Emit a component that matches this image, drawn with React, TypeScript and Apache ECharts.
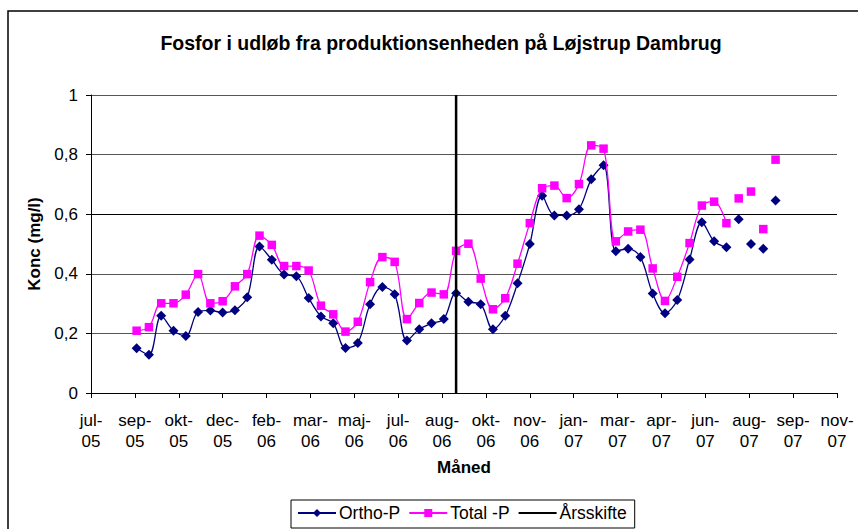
import React, { useEffect, useRef } from 'react';
import * as echarts from 'echarts';

// Sample dates (biweekly measurements)
const sampleDates = [
  '2005-09-07', '2005-09-21', '2005-10-05', '2005-10-19', '2005-11-02', '2005-11-16', '2005-11-30',
  '2005-12-14', '2005-12-28', '2006-01-11', '2006-01-25', '2006-02-08', '2006-02-22', '2006-03-08',
  '2006-03-22', '2006-04-05', '2006-04-19', '2006-05-03', '2006-05-17', '2006-05-31', '2006-06-14',
  '2006-06-28', '2006-07-12', '2006-07-26', '2006-08-09', '2006-08-23', '2006-09-06', '2006-09-20',
  '2006-10-04', '2006-10-18', '2006-11-01', '2006-11-15', '2006-11-29', '2006-12-13', '2006-12-27',
  '2007-01-10', '2007-01-24', '2007-02-07', '2007-02-21', '2007-03-07', '2007-03-21', '2007-04-04',
  '2007-04-18', '2007-05-02', '2007-05-16', '2007-05-30', '2007-06-13', '2007-06-27', '2007-07-11',
  '2007-07-25', '2007-08-08', '2007-08-22', '2007-09-05',
];

const orthoP = [
  0.150, 0.128, 0.259, 0.209, 0.191, 0.272, 0.277, 0.270, 0.278, 0.321, 0.492, 0.447, 0.398, 0.392,
  0.319, 0.257, 0.234, 0.151, 0.168, 0.298, 0.356, 0.331, 0.176, 0.214, 0.234, 0.248, 0.335, 0.306,
  0.298, 0.214, 0.259, 0.368, 0.500, 0.662, 0.596, 0.596, 0.617, 0.717, 0.764, 0.476, 0.484, 0.456,
  0.334, 0.268, 0.312, 0.448, 0.573, 0.509, 0.489, 0.583, 0.500, 0.484, 0.646,
];

const totalP = [
  0.209, 0.221, 0.301, 0.301, 0.330, 0.399, 0.301, 0.308, 0.358, 0.399, 0.528, 0.497, 0.426, 0.426,
  0.411, 0.293, 0.264, 0.206, 0.239, 0.372, 0.456, 0.440, 0.248, 0.302, 0.337, 0.331, 0.477, 0.501,
  0.384, 0.281, 0.318, 0.434, 0.570, 0.687, 0.696, 0.654, 0.701, 0.831, 0.820, 0.509, 0.542, 0.548,
  0.418, 0.309, 0.390, 0.503, 0.629, 0.642, 0.570, 0.653, 0.676, 0.550, 0.783,
];

// number of leading samples joined by a line; the rest are single points
const connectedCount = 49;

const yearChangeDate = '2006-09-06';
const yearChangeRange = [0, 1];

const xTickLabels = [
  'jul-05', 'sep-05', 'okt-05', 'dec-05', 'feb-06', 'mar-06', 'maj-06', 'jul-06', 'aug-06',
  'okt-06', 'nov-06', 'jan-07', 'mar-07', 'apr-07', 'jun-07', 'aug-07', 'sep-07', 'nov-07',
];
// Excel serial day numbers of the x axis
const xAxisMin = 38550;
const xAxisMax = 39400;
const xAxisStep = 50;

const FONT = 'Liberation Sans, Arial, Helvetica, sans-serif';

function toSerial(s: string): number {
  const [y, m, d] = s.split('-').map(Number);
  return Math.round((Date.UTC(y, m - 1, d) - Date.UTC(1899, 11, 30)) / 86400000);
}

export default function App() {
  const ref = useRef<HTMLDivElement>(null);
  useEffect(() => {
    if (!ref.current) return;
    const chart = echarts.init(ref.current, undefined, { renderer: 'svg' });
    const xs = sampleDates.map(toSerial);
    const orthoPairs = xs.map((x, i) => [x, orthoP[i]]);
    const totalPairs = xs.map((x, i) => [x, totalP[i]]);
    const yc = toSerial(yearChangeDate);
    const navy = '#000080';
    const pink = '#FF00FF';

    chart.setOption({
      animation: false,
      backgroundColor: '#ffffff',
      textStyle: { fontFamily: FONT },
      title: {
        text: 'Fosfor i udløb fra produktionsenheden på Løjstrup Dambrug',
        left: 436,
        top: 28,
        textAlign: 'center',
        textStyle: { fontFamily: FONT, fontWeight: 'bold', fontSize: 19.5, color: '#000' },
      },
      graphic: [
        {
          type: 'rect',
          shape: { x: 8, y: 11, width: 900, height: 600 },
          style: { fill: 'none', stroke: '#000', lineWidth: 1.5 },
          silent: true,
        },
      ],
      legend: {
        data: [
          { name: 'Ortho-P' },
          { name: 'Total -P' },
          { name: 'Årsskifte', itemStyle: { opacity: 0 } },
        ],
        left: 291,
        top: 500,
        orient: 'horizontal',
        borderColor: '#000',
        borderWidth: 1,
        padding: [4, 8, 6, 6],
        itemWidth: 38,
        itemHeight: 10,
        itemGap: 8,
        textStyle: { fontFamily: FONT, fontSize: 17.5, color: '#000', padding: [0, 0, 0, -2] },
      },
      grid: { left: 91, top: 95, width: 746, height: 298, containLabel: false },
      xAxis: {
        type: 'value',
        min: xAxisMin,
        max: xAxisMax,
        interval: xAxisStep,
        name: 'Måned',
        nameLocation: 'middle',
        nameGap: 66,
        nameTextStyle: { fontFamily: FONT, fontWeight: 'bold', fontSize: 17, color: '#000' },
        axisLine: { onZero: false, lineStyle: { color: '#000', width: 1 } },
        axisTick: { show: true, length: 5, lineStyle: { color: '#000' } },
        splitLine: { show: false },
        axisLabel: {
          margin: 17,
          fontFamily: FONT,
          fontSize: 17,
          lineHeight: 21,
          color: '#000',
          formatter: (v: number) => {
            const lbl = xTickLabels[Math.round((v - xAxisMin) / xAxisStep)] || '';
            return lbl.replace('-', '-\n');
          },
        },
      },
      yAxis: {
        type: 'value',
        min: 0,
        max: 1,
        interval: 0.2,
        name: 'Konc (mg/l)',
        nameLocation: 'middle',
        nameGap: 48,
        nameTextStyle: { fontFamily: FONT, fontWeight: 'bold', fontSize: 17, color: '#000' },
        axisLine: { show: true, onZero: false, lineStyle: { color: '#000', width: 1 } },
        axisTick: { show: true, length: 5, lineStyle: { color: '#000' } },
        splitLine: {
          show: true,
          lineStyle: { color: ['#555', '#555', '#555', '#000', '#555', '#555'], width: 1 },
        },
        axisLabel: {
          margin: 13,
          fontFamily: FONT,
          fontSize: 17,
          color: '#000',
          formatter: (v: number) => String(Number(v.toFixed(1))).replace('.', ','),
        },
      },
      series: [
        {
          name: 'Ortho-P',
          type: 'line',
          data: orthoPairs.slice(0, connectedCount),
          smooth: 0.35,
          symbol: 'diamond',
          symbolSize: 10,
          itemStyle: { color: navy, opacity: 1 },
          lineStyle: { color: navy, width: 1.3 },
          z: 3,
        },
        {
          name: 'Total -P',
          type: 'line',
          data: totalPairs.slice(0, connectedCount),
          smooth: 0.35,
          symbol: 'rect',
          symbolSize: 8.5,
          itemStyle: { color: pink, opacity: 1 },
          lineStyle: { color: pink, width: 1.3 },
          z: 4,
        },
        {
          name: 'Årsskifte',
          type: 'line',
          data: yearChangeRange.map((v) => [yc, v]),
          symbol: 'none',
          lineStyle: { color: '#000', width: 2.5 },
          itemStyle: { color: '#000' },
          z: 5,
        },
        {
          name: 'Ortho-P',
          type: 'scatter',
          data: orthoPairs.slice(connectedCount),
          symbol: 'diamond',
          symbolSize: 10,
          itemStyle: { color: navy, opacity: 1 },
          z: 3,
        },
        {
          name: 'Total -P',
          type: 'scatter',
          data: totalPairs.slice(connectedCount),
          symbol: 'rect',
          symbolSize: 8.5,
          itemStyle: { color: pink, opacity: 1 },
          z: 4,
        },
      ],
    });
    return () => chart.dispose();
  }, []);

  return (
    <div
      ref={ref}
      style={{ position: 'absolute', left: 0, top: 0, width: 858, height: 529, background: '#fff' }}
    />
  );
}
